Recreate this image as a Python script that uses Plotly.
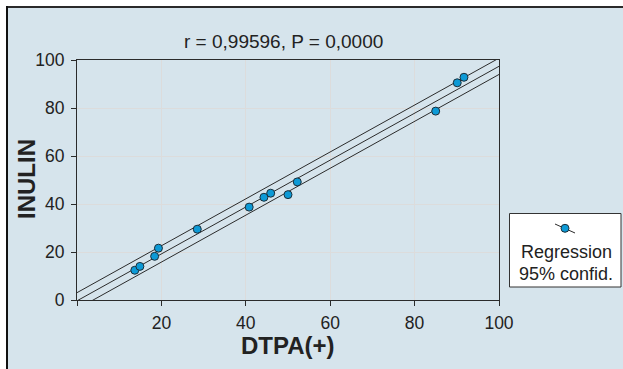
import numpy as np
import plotly.graph_objects as go

# Data
dtpa = [13.7, 14.9, 18.4, 19.3, 28.5, 40.8, 44.3, 45.9, 50.0, 52.2, 85.0, 90.1, 91.7]
inulin = [12.4, 14.0, 18.2, 21.6, 29.5, 38.7, 42.8, 44.5, 43.9, 49.2, 78.7, 90.5, 92.8]
conf_halfwidth = 3.4  # vertical offset of the 95% confidence lines
axis_ticks = [0, 20, 40, 60, 80, 100]
x_tick_text = ["", "20", "40", "60", "80", "100"]
y_tick_text = ["0", "20", "40", "60", "80", "100"]
title_text = "r = 0,99596, P = 0,0000"
x_title = "DTPA(+)"
y_title = "INULIN"
legend_lines = ["Regression", "95% confid."]

slope, intercept = np.polyfit(dtpa, inulin, 1)
xs = np.array([-5.0, 105.0])
fit = intercept + slope * xs

W, H = 623, 369
L, R, T, B = 77, 499, 60, 300


def px(x):
    return (x - L) / (R - L)


def py(y):
    return (B - y) / (B - T)


FONT = "Liberation Sans, Arial, sans-serif"
LINE = "#2b2b2b"
BG = "#d6e4ec"
TXT = "#222222"

fig = go.Figure()
for off in (conf_halfwidth, 0.0, -conf_halfwidth):
    fig.add_trace(go.Scatter(x=xs, y=fit + off, mode="lines",
                             line=dict(color=LINE, width=1), hoverinfo="skip",
                             showlegend=False))
fig.add_trace(go.Scatter(x=dtpa, y=inulin, mode="markers",
                         marker=dict(size=8, color="#0d9ad6",
                                     line=dict(color="#1c2f3a", width=1)),
                         showlegend=False))

axis_common = dict(range=[0, 100], tickvals=axis_ticks, ticks="outside", ticklen=5,
                   tickcolor=LINE, tickwidth=1, showline=True, linecolor=LINE,
                   linewidth=1, mirror=True, showgrid=True, gridcolor="#dcdcdc",
                   gridwidth=1, zeroline=False,
                   tickfont=dict(family=FONT, size=17.5, color=TXT))
fig.update_xaxes(ticktext=x_tick_text, ticklabelstandoff=2, **axis_common)
fig.update_yaxes(ticktext=y_tick_text, ticklabelstandoff=3, **axis_common)

shapes = [
    # light blue panel
    dict(type="rect", xref="paper", yref="paper", x0=px(7), x1=px(W),
         y0=py(H), y1=py(7), fillcolor=BG, line=dict(width=0),
         layer="below"),
    # dark top and left border of the panel
    dict(type="line", xref="paper", yref="paper", x0=px(6), x1=px(W),
         y0=py(7), y1=py(7), line=dict(color="#2a2a2a", width=2), layer="below"),
    dict(type="line", xref="paper", yref="paper", x0=px(7), x1=px(7),
         y0=py(6), y1=py(H), line=dict(color="#111111", width=2), layer="below"),
    # legend box
    dict(type="rect", xref="paper", yref="paper", x0=px(509.5), x1=px(621),
         y0=py(287), y1=py(213.5), fillcolor="white", line=dict(color="#333333", width=1)),
    dict(type="line", xref="paper", yref="paper", x0=px(555), x1=px(575),
         y0=py(224), y1=py(233), line=dict(color=LINE, width=1)),
    dict(type="circle", xref="paper", yref="paper", x0=px(561), x1=px(569),
         y0=py(232.3), y1=py(224.3), fillcolor="#0d9ad6",
         line=dict(color="#1c2f3a", width=1)),
]

annotations = [
    dict(text=title_text, x=px(283), y=py(41), xref="paper", yref="paper",
         showarrow=False, font=dict(family=FONT, size=19, color=TXT),
         xanchor="center", yanchor="middle"),
    dict(text="<b>%s</b>" % x_title, x=px(288), y=py(345), xref="paper", yref="paper",
         showarrow=False, font=dict(family=FONT, size=24, color=TXT),
         xanchor="center", yanchor="middle"),
    dict(text="<b>%s</b>" % y_title, x=px(26), y=py(179), xref="paper", yref="paper",
         showarrow=False, textangle=-90, font=dict(family=FONT, size=24, color=TXT),
         xanchor="center", yanchor="middle"),
    dict(text=legend_lines[0], x=px(566), y=py(252), xref="paper", yref="paper",
         showarrow=False, font=dict(family=FONT, size=18, color=TXT),
         xanchor="center", yanchor="middle"),
    dict(text=legend_lines[1], x=px(566), y=py(274), xref="paper", yref="paper",
         showarrow=False, font=dict(family=FONT, size=18, color=TXT),
         xanchor="center", yanchor="middle"),
]

fig.update_layout(width=W, height=H, margin=dict(l=L, r=W - R, t=T, b=H - B),
                  paper_bgcolor="white", plot_bgcolor="white", showlegend=False,
                  shapes=shapes, annotations=annotations)

fig.write_html("out.html", config={"displayModeBar": False, "staticPlot": True},
               post_script="document.body.style.margin='0px';"
                           "document.body.style.overflow='hidden';")
